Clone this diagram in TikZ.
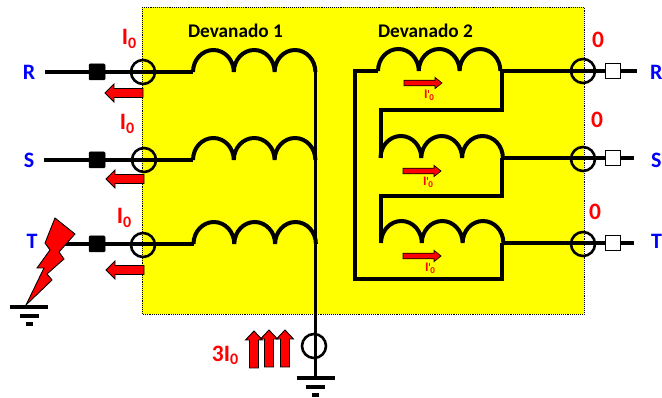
\documentclass[tikz,border=0pt]{standalone}
\usepackage{fontspec}
\setmainfont{Carlito}
\usetikzlibrary{calc}
\definecolor{bgyellow}{RGB}{255,255,0}
\definecolor{labred}{RGB}{255,0,0}
\definecolor{labblue}{RGB}{0,0,255}
\newcommand{\Izero}{I\raisebox{-0.28ex}{\fontsize{16}{16}\selectfont\bfseries 0}}
\newcommand{\Ipzero}{I\kern0.03em\raisebox{0.42em}{\rule{0.8pt}{2.6pt}}\kern0.04em\raisebox{-0.28ex}{\fontsize{9}{9}\selectfont\bfseries 0}}
\newcommand{\coilbumps}[1]{(#1) arc[start angle=180,end angle=0,x radius=20.4pt,y radius=22pt] arc[start angle=180,end angle=0,x radius=20.4pt,y radius=22pt] arc[start angle=180,end angle=0,x radius=20.4pt,y radius=22pt]}
\newcommand{\leftarrowblock}[2]{\draw[blockarrow] (#1,#2) ++(38,-4.5) -- ++(-29,0) -- ++(0,-4.5) -- ++(-9,9) -- ++(9,9) -- ++(0,-4.5) -- ++(29,0) -- cycle;}
\newcommand{\rightarrowblock}[2]{\draw[blockarrow,line width=0.7pt] (#1,#2) ++(0,-2.8) -- ++(31,0) -- ++(0,-2.8) -- ++(7,5.6) -- ++(-7,5.6) -- ++(0,-2.8) -- ++(-31,0) -- cycle;}
\newcommand{\upblock}[2]{\draw[blockarrow] (#1,#2) ++(-4.5,0) -- ++(0,-28) -- ++(-4,0) -- ++(8.5,-9) -- ++(8.5,9) -- ++(-4,0) -- ++(0,28) -- cycle;}
\newcommand{\groundat}[1]{\draw[gbar] ($(#1)+(-19,0)$) -- ++(38,0); \draw[gbar] ($(#1)+(-9.5,9)$) -- ++(19,0); \draw[gbar] ($(#1)+(-3.5,17)$) -- ++(7,0);}
\tikzset{
  wire/.style={line width=3.2pt,black,line join=miter},
  coil/.style={line width=4pt,black,line cap=butt,line join=miter},
  gbar/.style={line width=4pt,black},
  ring/.style={circle,draw=black,line width=2.6pt,minimum size=24pt,inner sep=0pt,fill=none},
  sqblack/.style={rectangle,draw=black,fill=black,rounded corners=1pt,minimum size=16pt,inner sep=0pt,line width=0.5pt},
  sqwhite/.style={rectangle,draw=black,fill=white,minimum size=15pt,inner sep=0pt,line width=1.8pt},
  blockarrow/.style={draw=black,fill=labred,line width=0.9pt,line join=miter},
  phase/.style={text=labblue,font=\fontsize{22}{22}\selectfont\bfseries,inner sep=0pt},
  redlab/.style={text=labred,font=\fontsize{23.5}{23.5}\selectfont\bfseries,inner sep=0pt},
  smalllab/.style={text=labred,font=\fontsize{13}{13}\selectfont\bfseries,inner sep=0pt},
  title/.style={text=black,font=\fontsize{19.3}{19.3}\selectfont\bfseries,inner sep=0pt},
}
\begin{document}
\begin{tikzpicture}[x=1pt,y=-1pt]
\useasboundingbox (0,0) rectangle (662,398);
\path[fill=bgyellow,draw=black,line width=0.9pt,densely dotted] (142,7) rectangle (584,314);

% named points, left side
\coordinate (Rin) at (45,72);  \coordinate (Sin) at (44,160);  \coordinate (Tin) at (65,244);
\coordinate (Ra) at (193,72);  \coordinate (Sa) at (193,160);  \coordinate (Ta) at (193.5,244);
\coordinate (Star) at (315.5,72);
\coordinate (Gnd) at (315.5,378);
\coordinate (Gfault) at (29,307);

% named points, right side
\coordinate (r1a) at (378,71); \coordinate (r1c) at (501.5,71);
\coordinate (r2a) at (380.5,158); \coordinate (r2b) at (501.5,158);
\coordinate (r3a) at (381,243); \coordinate (r3b) at (502,243);
\coordinate (Delta) at (353,71);
\coordinate (Dbot) at (355,279);
\coordinate (Rout) at (637,71); \coordinate (Sout) at (634,158); \coordinate (Tout) at (634,243);

% wires
\draw[wire] (Rin) -- (Ra);
\draw[wire] (Sin) -- (Sa);
\draw[wire] (Tin) -- (Ta);

% primary coils
\draw[coil] \coilbumps{Ra};
\draw[coil] \coilbumps{Sa};
\draw[coil] \coilbumps{Ta};
\draw[wire,line width=3.8pt] (Star) -- (Gnd);

% secondary coils
\draw[coil] \coilbumps{r1a};
\draw[coil] \coilbumps{r2a};
\draw[coil] \coilbumps{r3a};
\draw[coil] (r2a) -- (380.5,110) -| (r1c);
\draw[coil] (r3a) -- (381,196) -| (r2b);
\draw[coil] (r1a) -- (Delta);
\draw[coil] (355,69) -- (Dbot) -| (r3b);
\draw[wire] (r1c) -- (Rout);
\draw[wire] (r2b) -- (Sout);
\draw[wire] (r3b) -- (Tout);

% terminals
\node[sqblack] (qR) at (97,72) {};
\node[sqblack] (qS) at (97,160) {};
\node[sqblack] (qT) at (97,244) {};
\node[ring] (cR) at (143,72) {};
\node[ring] (cS) at (144,160) {};
\node[ring] (cT) at (143,245) {};
\node[ring] (cN) at (314,346) {};
\node[ring] (dR) at (583,71) {};
\node[ring] (dS) at (583,159) {};
\node[ring] (dT) at (583,244) {};
\node[sqwhite] (wR) at (613,71) {};
\node[sqwhite] (wS) at (613,158) {};
\node[sqwhite] (wT) at (613,243) {};

% earth symbols
\groundat{Gnd}
\groundat{Gfault}

% fault bolt
\draw[blockarrow] (55,218) -- (75,234) -- (59,252) -- (64,259) -- (47,274) -- (52,280) -- (26,305) -- (44,268) -- (37,268) -- (50,250) -- (45,243) -- cycle;

% current arrows
\leftarrowblock{105}{93}
\leftarrowblock{106}{179}
\leftarrowblock{106}{270}
\rightarrowblock{404}{83}
\rightarrowblock{403}{171}
\rightarrowblock{403}{256}
\upblock{254}{368}
\upblock{269}{367}
\upblock{285}{367}

% labels
\node[title] (t1) at (235.5,31) {Devanado 1};
\node[title] (t2) at (425.5,31) {Devanado 2};
\node[phase] (lR) at (29,72) {R};
\node[phase] (lS) at (29,160) {S};
\node[phase] (lT) at (32,241) {T};
\node[phase,anchor=west] (rR) at (650,72) {R};
\node[phase,anchor=west] (rS) at (651,160) {S};
\node[phase,anchor=west] (rT) at (651,241) {T};
\node[redlab] (i1) at (129,39) {\Izero};
\node[redlab] (i2) at (127,124) {\Izero};
\node[redlab] (i3) at (124,218) {\Izero};
\node[redlab] (z1) at (598,40) {0};
\node[redlab] (z2) at (597,120) {0};
\node[redlab] (z3) at (595,212) {0};
\node[redlab] (i4) at (225,355) {3\Izero};
\node[smalllab] (p1) at (429,95) {\Ipzero};
\node[smalllab] (p2) at (428,182) {\Ipzero};
\node[smalllab] (p3) at (430,268) {\Ipzero};
\end{tikzpicture}
\end{document}
